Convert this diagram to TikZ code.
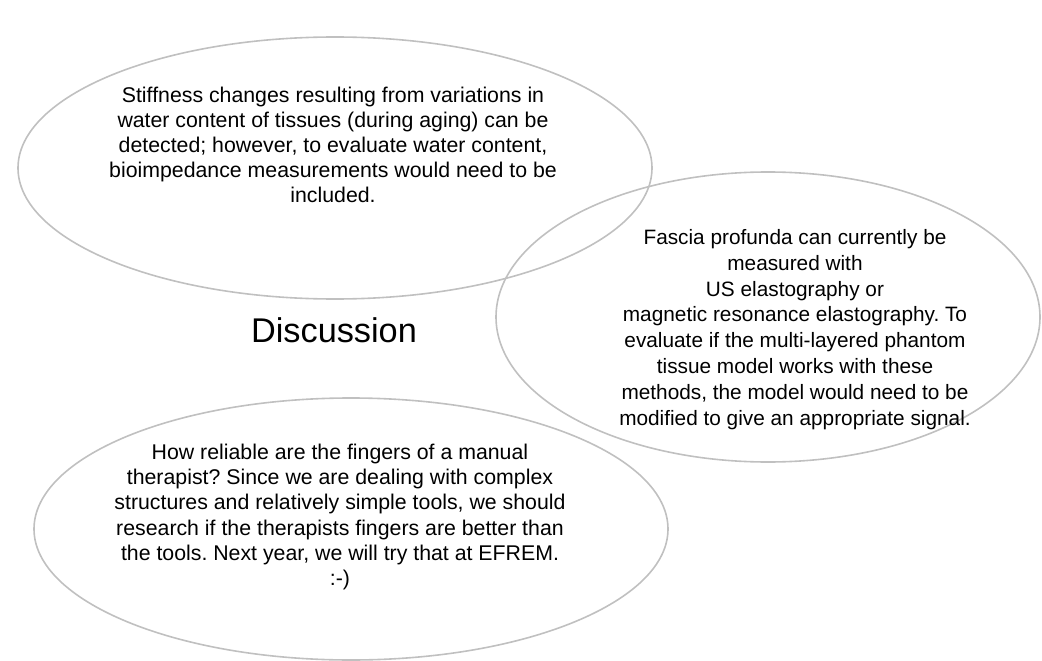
\documentclass[tikz,border=0pt]{standalone}
\usepackage{fontspec}
\setmainfont{Liberation Sans}
\usetikzlibrary{shapes.geometric}
\definecolor{edge}{HTML}{C0C0C0}
\frenchspacing
\tikzset{
  bubble/.style={draw=edge, line width=1.6pt},
  btext/.style={align=center, text=black, inner sep=0pt},
}
\begin{document}
\begin{tikzpicture}[x=1pt,y=-1pt]
\useasboundingbox (0,0) rectangle (1042,661);
\draw[bubble] (335,168) ellipse [x radius=317, y radius=131];
\draw[bubble] (768,317) ellipse [x radius=272, y radius=145];
\draw[bubble] (351,529) ellipse [x radius=317, y radius=131];
\node[btext, font=\frenchspacing\fontsize{21.3}{25}\selectfont] (t1) at (333,145) {Stiffness changes resulting from variations in\\water content of tissues (during aging) can be\\detected; however, to evaluate water content,\\bioimpedance measurements would need to be\\included.};
\node[btext, font=\frenchspacing\fontsize{20.8}{25.9}\selectfont] (t2) at (795,329.5) {Fascia profunda can currently be\\measured with\\US elastography or\\magnetic resonance elastography. To\\evaluate if the multi-layered phantom\\tissue model works with these\\methods, the model would need to be\\modified to give an appropriate signal.};
\node[btext, font=\frenchspacing\fontsize{21.3}{25.2}\selectfont] (t3) at (340,517) {How reliable are the fingers of a manual\\therapist? Since we are dealing with complex\\structures and relatively simple tools, we should\\research if the therapists fingers are better than\\the tools. Next year, we will try that at EFREM.\\:-)};
\node[font=\fontsize{34.3}{40}\selectfont, inner sep=0pt, anchor=base] (title) at (334,342) {Discussion};
\end{tikzpicture}
\end{document}
